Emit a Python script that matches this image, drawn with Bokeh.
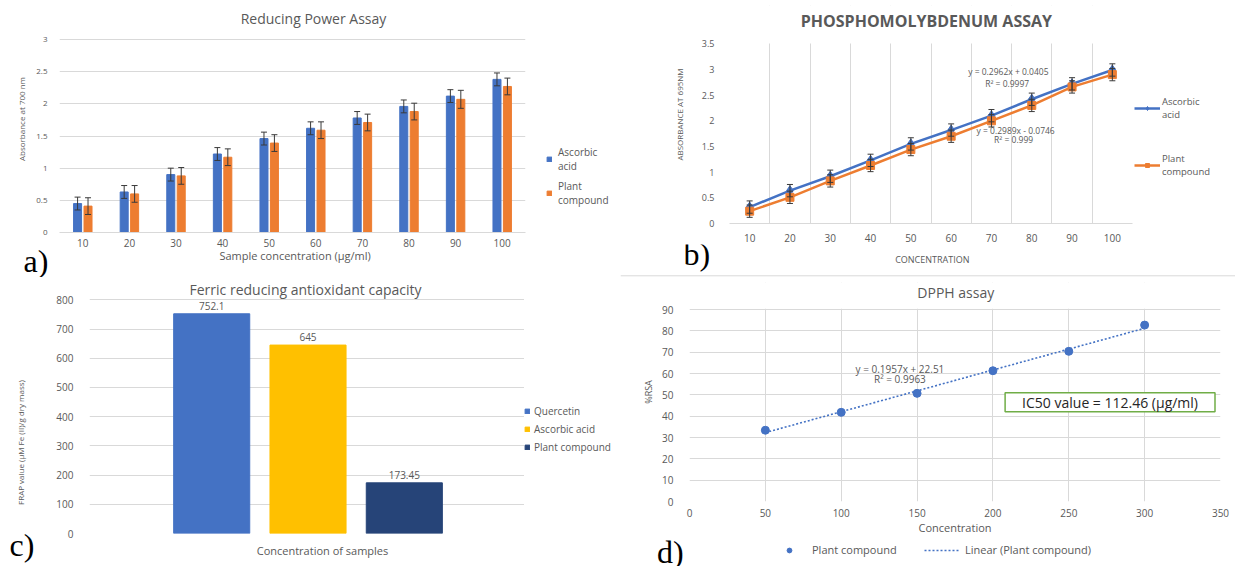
import math
from bokeh.plotting import figure
from bokeh.models import (ColumnDataSource, FactorRange, Range1d, Whisker, TeeHead, Legend,
                          LegendItem, Label, FixedTicker, SingleIntervalTicker, NumeralTickFormatter,
                          BoxAnnotation, Span)
from bokeh.transform import dodge
from bokeh.layouts import row, column
from bokeh.embed import file_html
from bokeh.resources import INLINE
from bokeh.core.properties import value

# ---------------- data ----------------
# a) Reducing power assay
rp_conc = ["10", "20", "30", "40", "50", "60", "70", "80", "90", "100"]
rp_ascorbic = [0.45, 0.63, 0.90, 1.22, 1.46, 1.62, 1.78, 1.96, 2.12, 2.38]
rp_ascorbic_err = [0.10, 0.10, 0.10, 0.10, 0.10, 0.10, 0.10, 0.10, 0.10, 0.10]
rp_plant = [0.41, 0.60, 0.88, 1.17, 1.39, 1.59, 1.71, 1.88, 2.07, 2.27]
rp_plant_err = [0.13, 0.13, 0.13, 0.13, 0.13, 0.13, 0.13, 0.13, 0.14, 0.13]

# b) Phosphomolybdenum assay
pm_conc = [10, 20, 30, 40, 50, 60, 70, 80, 90, 100]
pm_ascorbic = [0.32, 0.64, 0.92, 1.23, 1.55, 1.82, 2.10, 2.42, 2.72, 2.99]
pm_plant = [0.24, 0.51, 0.83, 1.13, 1.44, 1.70, 2.00, 2.30, 2.66, 2.90]
pm_err = [0.12, 0.12, 0.12, 0.12, 0.12, 0.12, 0.12, 0.12, 0.12, 0.12]
pm_eq_ascorbic = ["y = 0.2962x + 0.0405", "R\u00b2 = 0.9997"]
pm_eq_plant = ["y = 0.2989x - 0.0746", "R\u00b2 = 0.999"]

# c) FRAP
frap_samples = ["Quercetin", "Ascorbic acid", "Plant compound"]
frap_values = [752.1, 645, 173.45]

# d) DPPH
dpph_conc = [50, 100, 150, 200, 250, 300]
dpph_rsa = [33.4, 41.8, 50.7, 61.3, 70.4, 82.7]
dpph_slope = 0.1957
dpph_intercept = 22.51
dpph_r2 = 0.9963
dpph_ic50 = 112.46

# ---------------- style ----------------
FONT = "Open Sans"
SERIF = "Liberation Serif"
GRAY = "#595959"
GRID = "#D9D9D9"
BLUE = "#4472C4"
ORANGE = "#ED7D31"
YELLOW = "#FFC000"
NAVY = "#264478"
ERR = "#3A3A3A"
NAN = [float("nan")]   # legend-swatch renderers carry no visible data


def no_align(p):
    try:
        p.frame_align = False
    except Exception:
        pass


def main_fig(fw, fh, left, right, top, bottom, **kw):
    p = figure(frame_width=fw, frame_height=fh, min_border_left=left, min_border_right=right,
               min_border_top=top, min_border_bottom=bottom, output_backend="svg",
               toolbar_location=None, **kw)
    no_align(p)
    p.outline_line_color = None
    p.background_fill_color = "white"
    p.border_fill_color = "white"
    for ax in (p.xaxis, p.yaxis):
        ax.major_tick_line_color = None
        ax.minor_tick_line_color = None
        ax.major_label_text_color = GRAY
        ax.major_label_text_font = FONT
        ax.axis_label_text_color = GRAY
        ax.axis_label_text_font = FONT
        ax.axis_label_text_font_style = "normal"
    p.yaxis.axis_line_color = None
    p.xaxis.axis_line_color = GRID
    p.grid.grid_line_color = GRID
    return p


def helper_fig(w, h):
    p = figure(frame_width=w, frame_height=h, x_range=Range1d(0, w), y_range=Range1d(0, h),
               x_axis_location=None, y_axis_location=None, min_border=0,
               output_backend="svg", toolbar_location=None)
    no_align(p)
    p.grid.visible = False
    p.outline_line_color = None
    p.background_fill_color = "white"
    p.border_fill_color = "white"
    return p


def add_label(p, x, y, text, size, color=GRAY, font=FONT, style="normal",
              align="center", baseline="middle", angle=0.0):
    p.add_layout(Label(x=x, y=y, text=text, text_font=font, text_font_size=size,
                       text_color=color, text_font_style=style, text_align=align,
                       text_baseline=baseline, angle=angle))


def letter(p, x, y, text):
    add_label(p, x, y, text, "32px", color="black", font=SERIF, align="left",
              baseline="middle")


def make_legend(items, loc, **kw):
    opts = dict(location=loc, padding=0, margin=0, label_text_font=FONT,
                label_text_color=GRAY, border_line_color=None, background_fill_alpha=0,
                label_text_line_height=1.15)
    opts.update(kw)
    return Legend(items=items, **opts)


# ================= a) =================
src_a = ColumnDataSource(dict(
    conc=rp_conc, asc=rp_ascorbic, pl=rp_plant,
    asc_lo=[v - e for v, e in zip(rp_ascorbic, rp_ascorbic_err)],
    asc_hi=[v + e for v, e in zip(rp_ascorbic, rp_ascorbic_err)],
    pl_lo=[v - e for v, e in zip(rp_plant, rp_plant_err)],
    pl_hi=[v + e for v, e in zip(rp_plant, rp_plant_err)],
))
pa = main_fig(466, 227, 59, 2, 5, 16,
              x_range=FactorRange(factors=rp_conc, range_padding=0),
              y_range=Range1d(0, 3.5285))
pa.vbar(x=dodge("conc", -0.112, range=pa.x_range), top="asc", width=0.172,
        source=src_a, color=BLUE)
pa.vbar(x=dodge("conc", 0.112, range=pa.x_range), top="pl", width=0.172,
        source=src_a, color=ORANGE)
for off, lo, hi in ((-0.112, "asc_lo", "asc_hi"), (0.112, "pl_lo", "pl_hi")):
    pa.add_layout(Whisker(base=dodge("conc", off, range=pa.x_range), lower=lo, upper=hi,
                          source=src_a, line_color=ERR, line_width=1, level="overlay",
                          upper_head=TeeHead(size=6, line_color=ERR, line_width=1),
                          lower_head=TeeHead(size=6, line_color=ERR, line_width=1)))
pa.xgrid.visible = False
a_ticks = FixedTicker(ticks=[0, 0.5, 1, 1.5, 2, 2.5, 3])
pa.yaxis.ticker = a_ticks
pa.ygrid.ticker = a_ticks
pa.yaxis.formatter = NumeralTickFormatter(format="0.[0]")
pa.yaxis.major_label_text_font_size = "8px"
pa.yaxis.major_label_standoff = 6
pa.yaxis.axis_label = "Absorbance at 700 nm"
pa.yaxis.axis_label_text_font_size = "8px"
pa.yaxis.axis_label_standoff = 6
pa.xaxis.major_label_text_font_size = "10px"
pa.xaxis.major_label_standoff = 0
add_label(pa, 5.45, 3.327, "Reducing Power Assay", "14px")

pa_leg = helper_fig(93, 248)
la1 = pa_leg.vbar(x=NAN, top=NAN, width=1, color=BLUE)
la2 = pa_leg.vbar(x=NAN, top=NAN, width=1, color=ORANGE)
pa_leg.add_layout(make_legend([LegendItem(label="Ascorbic\nacid", renderers=[la1]),
                               LegendItem(label="Plant\ncompound", renderers=[la2])],
                              (19, 41), spacing=6, glyph_width=6, glyph_height=6,
                              label_standoff=6, label_height=9, label_text_font_size="10px",
                              label_text_line_height=0.98))

pa_bot = helper_fig(620, 28)
letter(pa_bot, 23, 17, "a)")
add_label(pa_bot, 294.6, 21.7, "Sample concentration (\u00b5g/ml)", "11px")

# ================= b) =================
src_b = ColumnDataSource(dict(
    x=pm_conc, asc=pm_ascorbic, pl=pm_plant,
    asc_lo=[v - e for v, e in zip(pm_ascorbic, pm_err)],
    asc_hi=[v + e for v, e in zip(pm_ascorbic, pm_err)],
    pl_lo=[v - e for v, e in zip(pm_plant, pm_err)],
    pl_hi=[v + e for v, e in zip(pm_plant, pm_err)],
))
pb = main_fig(403, 218, 109, 2, 5, 20, x_range=Range1d(5, 105), y_range=Range1d(0, 4.246))
pb.ygrid.visible = False
pb.xgrid.ticker = FixedTicker(ticks=[c - 5 for c in pm_conc] + [pm_conc[-1] + 5])
pb.xaxis.ticker = FixedTicker(ticks=pm_conc)
pb.line("x", "asc", source=src_b, color=BLUE, line_width=2.5)
pb.line("x", "pl", source=src_b, color=ORANGE, line_width=2.5)
for lo, hi in (("asc_lo", "asc_hi"), ("pl_lo", "pl_hi")):
    pb.add_layout(Whisker(base="x", lower=lo, upper=hi, source=src_b, line_color=ERR,
                          line_width=1, level="overlay",
                          upper_head=TeeHead(size=6, line_color=ERR, line_width=1),
                          lower_head=TeeHead(size=6, line_color=ERR, line_width=1)))
pb.scatter("x", "asc", source=src_b, marker="diamond", size=10, color=BLUE)
pb.scatter("x", "pl", source=src_b, marker="square", size=8, color=ORANGE)
b_ticks = FixedTicker(ticks=[0, 0.5, 1, 1.5, 2, 2.5, 3, 3.5])
pb.yaxis.ticker = b_ticks
pb.yaxis.formatter = NumeralTickFormatter(format="0.[0]")
pb.yaxis.major_label_text_font_size = "9px"
pb.yaxis.major_label_standoff = 9
pb.yaxis.axis_label = "ABSORBANCE AT 695NM"
pb.yaxis.axis_label_text_font_size = "8px"
pb.yaxis.axis_label_standoff = 14
pb.xaxis.major_label_text_font_size = "10px"
pb.xaxis.major_label_standoff = 4
pb.add_layout(BoxAnnotation(bottom=3.507, fill_color="white", fill_alpha=1.0,
                            line_alpha=0.0))
add_label(pb, 74.2, 2.961, pm_eq_ascorbic[0], "8.5px")
add_label(pb, 73.9, 2.736, pm_eq_ascorbic[1], "8.5px")
add_label(pb, 76.0, 1.808, pm_eq_plant[0], "8.5px")
add_label(pb, 75.5, 1.627, pm_eq_plant[1], "8.5px")
add_label(pb, 53.86, 3.94, "PHOSPHOMOLYBDENUM ASSAY", "16px", style="bold")

pb_leg = helper_fig(101, 243)
lb1 = pb_leg.line(x=NAN, y=NAN, color=BLUE, line_width=2.5)
mb1 = pb_leg.scatter(x=NAN, y=NAN, marker="diamond", size=9, color=BLUE)
lb2 = pb_leg.line(x=NAN, y=NAN, color=ORANGE, line_width=2.5)
mb2 = pb_leg.scatter(x=NAN, y=NAN, marker="square", size=7, color=ORANGE)
pb_leg.add_layout(make_legend([LegendItem(label="Ascorbic\nacid", renderers=[lb1, mb1]),
                               LegendItem(label="Plant\ncompound", renderers=[lb2, mb2])],
                              (0, 65), spacing=31, glyph_width=26, glyph_height=10,
                              label_standoff=2, label_height=10, label_text_font_size="9.5px",
                              label_text_line_height=1.2))

pb_bot = helper_fig(615, 33)
pb_bot.add_layout(Span(location=1.7, dimension="width", line_color=GRID, line_width=1))
letter(pb_bot, 63, 23.5, "b)")
add_label(pb_bot, 311.8, 17.7, "CONCENTRATION", "9px")

# ================= c) =================
frap_idx = list(range(len(frap_samples)))
src_c = ColumnDataSource(dict(idx=frap_idx, val=frap_values,
                              lab=[str(v) for v in frap_values],
                              color=[BLUE, YELLOW, NAVY]))
pc = main_fig(435, 252, 36, 0, 4, 6, x_range=Range1d(-1.269, 3.248),
              y_range=Range1d(0, 862.6))
pc.vbar(x="idx", top="val", width=0.79, color="color", source=src_c)
pc.text(x="idx", y="val", text="lab", source=src_c, text_align="center",
        text_baseline="bottom", y_offset=-4, text_font=value(FONT), text_font_size="10px",
        text_color=GRAY)
pc.xgrid.visible = False
pc.xaxis.visible = False
c_ticks = FixedTicker(ticks=[0, 100, 200, 300, 400, 500, 600, 700, 800])
pc.yaxis.ticker = c_ticks
pc.ygrid.ticker = c_ticks
pc.yaxis.major_label_text_font_size = "10px"
pc.yaxis.major_label_standoff = 10
add_label(pc, 0.974, 836.5, "Ferric reducing antioxidant capacity", "14px")

pc_side = helper_fig(53, 290)
add_label(pc_side, 19.8, 125, "FRAP value (\u00b5M Fe (II)/g dry mass)", "8px",
          angle=math.pi / 2)
letter(pc_side, 9, 22.6, "c)")

pc_leg = helper_fig(96, 262)
rcs = [pc_leg.vbar(x=NAN, top=NAN, width=1, color=c) for c in (BLUE, YELLOW, NAVY)]
pc_leg.add_layout(make_legend([LegendItem(label=s, renderers=[r])
                               for s, r in zip(frap_samples, rcs)],
                              (0, 85), spacing=4, glyph_width=6, glyph_height=6,
                              label_standoff=4, label_height=13, label_text_font_size="10px"))

pc_bot = helper_fig(567, 28)
add_label(pc_bot, 269, 16.7, "Concentration of samples", "11px")

# ================= d) =================
src_d = ColumnDataSource(dict(x=dpph_conc, y=dpph_rsa))
trend_x = [min(dpph_conc), max(dpph_conc)]
trend_y = [dpph_slope * v + dpph_intercept for v in trend_x]
pd = main_fig(531, 219, 69, 15, 5, 32, x_range=Range1d(0, 350), y_range=Range1d(0, 102.66))
d_xt = SingleIntervalTicker(interval=50, num_minor_ticks=0)
d_yt = FixedTicker(ticks=[0, 10, 20, 30, 40, 50, 60, 70, 80, 90])
pd.xaxis.ticker = d_xt
pd.xgrid.ticker = d_xt
pd.yaxis.ticker = d_yt
pd.ygrid.ticker = d_yt
pd.xaxis.axis_line_color = None
pd.add_layout(BoxAnnotation(bottom=90.3, fill_color="white", fill_alpha=1.0, line_alpha=0.0))
pd.line(trend_x, trend_y, color=BLUE, line_width=1.6, line_dash="2 2")
pd.scatter("x", "y", source=src_d, size=8, color=BLUE)
pd.yaxis.major_label_text_font_size = "10px"
pd.yaxis.major_label_standoff = 10
pd.yaxis.axis_label = "%RSA"
pd.yaxis.axis_label_text_font_size = "9px"
pd.yaxis.axis_label_standoff = 4
pd.xaxis.major_label_text_font_size = "10px"
pd.xaxis.major_label_standoff = 1
pd.xaxis.axis_label = "Concentration"
pd.xaxis.axis_label_text_font_size = "11px"
pd.xaxis.axis_label_standoff = 0
add_label(pd, 138.7, 62.0, "y = %.4fx + %.2f" % (dpph_slope, dpph_intercept), "10px")
add_label(pd, 138.7, 57.3, "R\u00b2 = %.4f" % dpph_r2, "10px")
pd.add_layout(Label(x=277.2, y=46.5, text="IC50 value = %.2f (\u00b5g/ml)" % dpph_ic50,
                    text_font=FONT, text_font_size="14px", text_color="#262626",
                    text_align="center", text_baseline="middle",
                    border_line_color="#70AD47", border_line_width=1.5,
                    background_fill_color="white",
                    padding=dict(left=17, right=17, top=0, bottom=0)))
add_label(pd, 175.5, 97.97, "DPPH assay", "14px")

pd_bot = helper_fig(615, 34)
sd = pd_bot.scatter(x=NAN, y=NAN, size=8, color=BLUE)
ld = pd_bot.line(x=NAN, y=NAN, color=BLUE, line_width=1.6, line_dash="2 2")
pd_bot.add_layout(make_legend([LegendItem(label="Plant compound", renderers=[sd])],
                              (159, 14), glyph_width=20, glyph_height=12, label_standoff=13,
                              label_height=12, label_text_font_size="11px"))
pd_bot.add_layout(make_legend([LegendItem(label="Linear (Plant compound)", renderers=[ld])],
                              (304, 14), glyph_width=35, glyph_height=12, label_standoff=6,
                              label_height=12, label_text_font_size="11px"))
letter(pd_bot, 36.6, 19.5, "d)")

left = column(row(pa, pa_leg), pa_bot,
              row(pc_side, column(row(pc, pc_leg), pc_bot)))
right = column(row(pb, pb_leg), pb_bot, pd, pd_bot)
layout = row(left, right)
open("out.html", "w").write(file_html(layout, INLINE))
